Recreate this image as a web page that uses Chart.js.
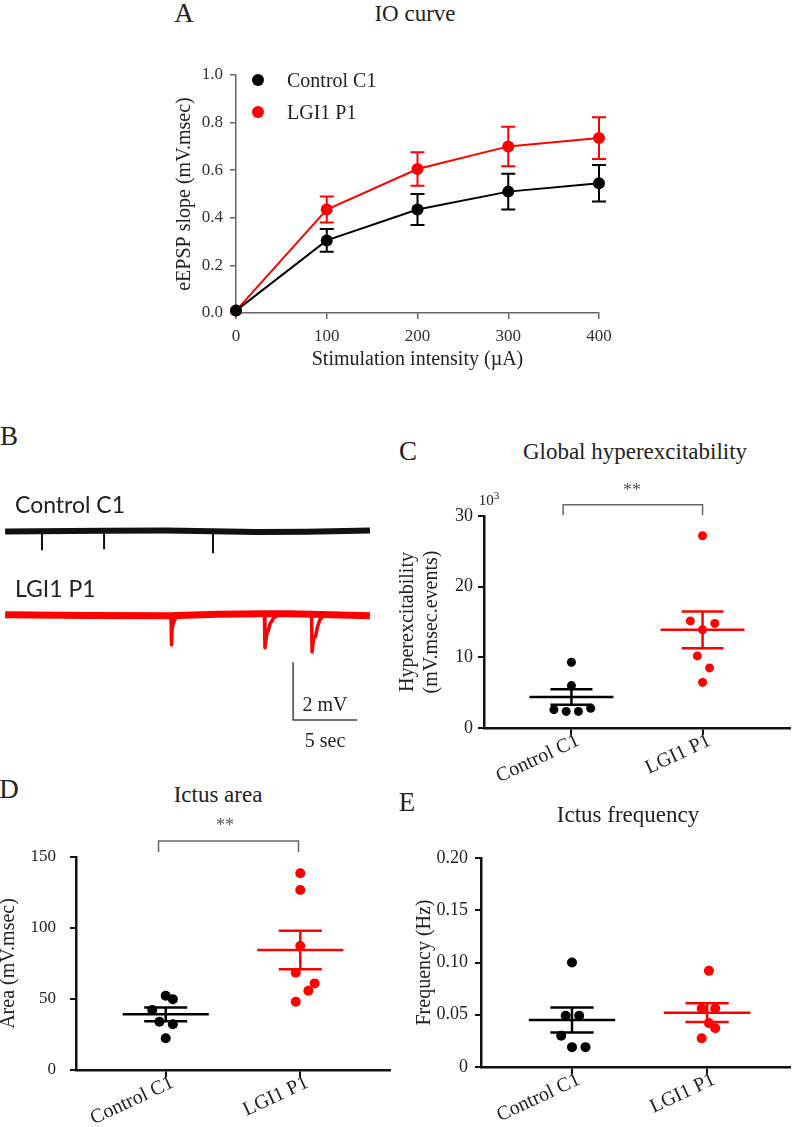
<!DOCTYPE html>
<html>
<head>
<meta charset="utf-8">
<script src="https://cdn.jsdelivr.net/npm/chart.js@4.4.0/dist/chart.umd.min.js"></script>
<style>
body { margin:0; width:800px; height:1127px; position:relative; background:#fff; overflow:hidden;
       font-family:"Liberation Serif","Times New Roman",serif; color:#222; }
canvas { position:absolute; }
.t { position:absolute; white-space:nowrap; line-height:1; transform:translate(-50%,-50%); }
.l { transform:translate(0,-50%); }
.sans { font-family:Lato,"Liberation Sans",sans-serif; }
.dot { position:absolute; width:12px; height:12px; border-radius:50%; transform:translate(-50%,-50%); }
</style>
</head>
<body>
<canvas id="io"></canvas>
<canvas id="traces"></canvas>
<canvas id="hyper"></canvas>
<canvas id="area"></canvas>
<canvas id="freq"></canvas>

<!-- panel letters and titles -->
<div class="t" style="left:184px;top:13px;font-size:27px">A</div>
<div class="t" style="left:415px;top:13px;font-size:23px">IO curve</div>
<div class="t" style="left:9px;top:436px;font-size:27px">B</div>
<div class="t" style="left:408px;top:451px;font-size:27px">C</div>
<div class="t" style="left:635px;top:451px;font-size:23px">Global hyperexcitability</div>
<div class="t" style="left:9px;top:789px;font-size:27px">D</div>
<div class="t" style="left:218px;top:794px;font-size:23px">Ictus area</div>
<div class="t" style="left:407px;top:802px;font-size:27px">E</div>
<div class="t" style="left:628px;top:814px;font-size:23px">Ictus frequency</div>

<!-- panel A legend -->
<div class="dot" style="left:258px;top:80px;background:#000"></div>
<div class="t l" style="left:287px;top:80px;font-size:20px">Control C1</div>
<div class="dot" style="left:258px;top:112px;background:#ff0000"></div>
<div class="t l" style="left:287px;top:112px;font-size:20px">LGI1 P1</div>

<!-- panel B labels -->
<div class="t l sans" style="left:15px;top:504px;font-size:23px">Control C1</div>
<div class="t l sans" style="left:15px;top:588px;font-size:23px">LGI1 P1</div>
<div class="t" style="left:325px;top:704px;font-size:20px">2 mV</div>
<div class="t" style="left:325px;top:740px;font-size:20px">5 sec</div>

<!-- significance marks -->
<div class="t" style="left:489px;top:499px;font-size:15px">10<sup style="font-size:11px">3</sup></div>
<div class="t" style="left:632px;top:490px;font-size:18px;color:#555">**</div>
<div class="t" style="left:225px;top:825px;font-size:18px;color:#555">**</div>

<script>
// ---------------- data ----------------
// A: input/output curve
const stimCurrents = [0, 100, 200, 300, 400];
const ioControl = [0.01, 0.305, 0.435, 0.51, 0.545];
const ioControlSem = [0, 0.048, 0.065, 0.075, 0.077];
const ioLgi1 = [0.01, 0.435, 0.605, 0.70, 0.735];
const ioLgi1Sem = [0, 0.055, 0.07, 0.083, 0.088];
const ioTicksY = [0, 0.2, 0.4, 0.6, 0.8, 1.0];
const ioTicksX = [0, 100, 200, 300, 400];

// B: example recordings, [sec, mV]
const controlBaseline = [[0.4, 0], [8.1, 0.02], [13, 0.03], [16.6, 0.01], [20, -0.02], [24, -0.01], [28.9, 0.03]];
const controlSpikes = [[3.28, -0.63], [8.13, -0.6], [16.64, -0.74]];
const lgi1Baseline = [[0.4, 0], [7, -0.02], [13.3, -0.03], [17, 0.02], [20.6, 0.04], [22.5, 0.04], [24.3, 0.02], [28.9, -0.03]];
const lgi1Events = [
  [[13.36, -0.03], [13.40, -1.05], [13.45, -0.45], [13.6, -0.22], [13.8, -0.08], [14.1, 0]],
  [[20.66, 0.04], [20.70, -1.15], [20.82, -0.72], [20.94, -0.58], [21.09, -0.32], [21.4, -0.1], [21.88, 0.04]],
  [[24.34, 0.02], [24.38, -1.3], [24.49, -0.85], [24.65, -0.75], [24.8, -0.42], [25.0, -0.16], [25.39, 0.01]]
];
const lgi1Offset = -2.92;
const scaleBarSec = 5;
const scaleBarMv = 2;

// C, D, E: dot plots
const groups = ['Control C1', 'LGI1 P1'];
const groupPos = [1, 2.5];

const hyperControl = [9.3, 6.0, 2.6, 2.35, 2.35, 2.8];
const hyperControlX = [0, 0, -0.2, -0.06, 0.08, 0.22];
const hyperLgi1 = [27.2, 15.15, 14.8, 13.9, 10.2, 8.5, 6.45];
const hyperLgi1X = [0, -0.14, 0.14, 0, -0.06, 0.08, 0];
const hyperMean = [4.4, 13.9];
const hyperSem = [1.1, 2.6];
const hyperTicks = [0, 10, 20, 30];

const areaControl = [52.3, 49.8, 42.2, 34.0, 32.2, 22.3];
const areaControlX = [0, 0.08, -0.15, -0.07, 0.08, 0];
const areaLgi1 = [138.5, 126.8, 87.3, 68.5, 61.0, 55.8, 48.1];
const areaLgi1X = [0, 0, 0, -0.05, 0.16, 0.09, -0.05];
const areaMean = [39.2, 84.5];
const areaSem = [4.8, 13.5];
const areaTicks = [0, 50, 100, 150];

const freqControl = [0.10, 0.049, 0.049, 0.03, 0.019, 0.019];
const freqControlX = [0, -0.07, 0.08, -0.12, 0, 0.15];
const freqLgi1 = [0.092, 0.056, 0.056, 0.042, 0.037, 0.0275];
const freqLgi1X = [0.02, -0.06, 0.09, 0.02, 0.09, -0.06];
const freqMean = [0.045, 0.052];
const freqSem = [0.012, 0.009];
const freqTicks = [0, 0.05, 0.10, 0.15, 0.20];

// ---------------- helpers ----------------
const SERIF = '"Liberation Serif", "Times New Roman", serif';
const RED = '#ff0000';
const groupColors = ['#000', RED];
Chart.defaults.font.family = SERIF;
Chart.defaults.color = '#222';

const font = (size, extra) => Object.assign({ family: SERIF, size }, extra);

function place(id, box) {
  const c = document.getElementById(id);
  c.width = box.w; c.height = box.h;
  c.style.left = box.x + 'px'; c.style.top = box.y + 'px';
  return c;
}

// fix the axis box size so the plot area lands where we want it
function fixBox(size) {
  return s => {
    if (s.isHorizontal()) s.height = size; else s.width = size;
    s.paddingLeft = s.paddingRight = s.paddingTop = s.paddingBottom = 0;
  };
}

function setTicks(values) {
  return s => { s.ticks = values.map(v => ({ value: v })); };
}

function padFor(box, area) {
  return { left: 0, top: area.top - box.y, right: box.x + box.w - area.right, bottom: 0 };
}

const baseOpts = {
  responsive: false,
  animation: false,
  events: [],
  plugins: { legend: { display: false }, tooltip: { enabled: false } }
};

// error bars for panel A
const errorBars = {
  id: 'errorBars',
  afterDatasetsDraw(chart) {
    const { ctx, scales: { y } } = chart;
    chart.data.datasets.forEach((ds, i) => {
      if (!ds.sem) return;
      const meta = chart.getDatasetMeta(i);
      ctx.save();
      ctx.strokeStyle = ds.borderColor;
      ctx.lineWidth = 2;
      meta.data.forEach((pt, j) => {
        const s = ds.sem[j];
        if (!s) return;
        const hi = y.getPixelForValue(ds.data[j].y + s);
        const lo = y.getPixelForValue(ds.data[j].y - s);
        ctx.beginPath();
        ctx.moveTo(pt.x, hi); ctx.lineTo(pt.x, lo);
        ctx.moveTo(pt.x - 7, hi); ctx.lineTo(pt.x + 7, hi);
        ctx.moveTo(pt.x - 7, lo); ctx.lineTo(pt.x + 7, lo);
        ctx.stroke();
      });
      ctx.restore();
    });
  }
};

// ---------------- A: IO curve ----------------
(function () {
  const box = { x: 150, y: 40, w: 470, h: 340 };
  const area = { left: 236, top: 75, right: 599, bottom: 313 };
  const axisGrey = '#666';
  const series = (vals, sem, color) => ({
    data: stimCurrents.map((x, i) => ({ x, y: vals[i] })),
    sem,
    showLine: true,
    borderColor: color,
    backgroundColor: color,
    borderWidth: 2,
    pointRadius: 6,
    pointBorderWidth: 0,
    clip: false
  });
  new Chart(place('io', box), {
    type: 'scatter',
    data: { datasets: [series(ioControl, ioControlSem, '#000'), series(ioLgi1, ioLgi1Sem, RED)] },
    plugins: [errorBars],
    options: {
      ...baseOpts,
      layout: { padding: padFor(box, area) },
      scales: {
        x: {
          type: 'linear', min: 0, max: 400,
          afterBuildTicks: setTicks(ioTicksX),
          afterFit: fixBox(box.y + box.h - area.bottom),
          ticks: { font: font(17), color: '#333', padding: 7 },
          grid: { drawOnChartArea: false, tickLength: 6, color: axisGrey, lineWidth: 1.5 },
          border: { color: axisGrey, width: 1.5 },
          title: { display: true, text: 'Stimulation intensity (\u00b5A)', font: font(20), color: '#222', padding: { top: 0, bottom: 8 } }
        },
        y: {
          min: 0, max: 1,
          afterBuildTicks: setTicks(ioTicksY),
          afterFit: fixBox(area.left - box.x),
          ticks: { font: font(17), color: '#333', padding: 7, callback: v => v.toFixed(1) },
          grid: { drawOnChartArea: false, tickLength: 6, color: axisGrey, lineWidth: 1.5 },
          border: { color: axisGrey, width: 1.5 },
          title: { display: true, text: 'eEPSP slope (mV.msec)', font: font(20), color: '#222', padding: { top: 23, bottom: 0 } }
        }
      }
    }
  });
})();

// ---------------- B: traces ----------------
(function () {
  const box = { x: 0, y: 500, w: 400, h: 260 };
  const xy = (pts, dy = 0) => pts.map(([x, y]) => ({ x, y: y + dy }));
  const line = (data, color, width) => ({
    data, showLine: true, borderColor: color, borderWidth: width,
    pointRadius: 0, borderJoinStyle: 'round', clip: false
  });
  const barX = 22.9, barY = -6.6;
  const datasets = [
    line(xy(controlBaseline), '#111', 6),
    ...controlSpikes.map(([t, d]) => line([{ x: t, y: 0 }, { x: t, y: d }], '#111', 2)),
    line(xy(lgi1Baseline, lgi1Offset), RED, 7),
    ...lgi1Events.map(ev => line(xy(ev, lgi1Offset), RED, 3.5)),
    line([{ x: barX, y: barY + scaleBarMv }, { x: barX, y: barY }, { x: barX + scaleBarSec, y: barY }], '#444', 1.5)
  ];
  new Chart(place('traces', box), {
    type: 'scatter',
    data: { datasets },
    options: {
      ...baseOpts,
      layout: { padding: 0 },
      scales: {
        x: { type: 'linear', display: false, min: 0, max: 31.25 },
        y: { display: false, min: -8, max: 1.1 }
      }
    }
  });
})();

// ---------------- C, D, E: dot plots ----------------
function dotPanel(id, box, area, p) {
  const datasets = [];
  p.values.forEach((vals, g) => {
    datasets.push({
      data: vals.map((v, k) => ({ x: groupPos[g] + p.spread[g][k], y: v })),
      backgroundColor: groupColors[g], borderWidth: 0, pointRadius: p.radius, clip: false
    });
  });
  const seg = (pts, color, width) => ({
    data: pts.map(([x, y]) => ({ x, y })), showLine: true, borderColor: color,
    borderWidth: width, pointRadius: 0, clip: false
  });
  p.mean.forEach((m, g) => {
    const c = groupPos[g], s = p.sem[g], col = groupColors[g];
    datasets.push(seg([[c - 0.48, m], [c + 0.48, m]], col, 2.5));
    datasets.push(seg([[c - 0.24, m + s], [c + 0.24, m + s]], col, 2.5));
    datasets.push(seg([[c - 0.24, m - s], [c + 0.24, m - s]], col, 2.5));
    datasets.push(seg([[c, m - s], [c, m + s]], col, 2.5));
  });
  if (p.bracket) {
    const [x0, x1, yLow, yTop] = p.bracket;
    datasets.push(seg([[x0, yLow], [x0, yTop], [x1, yTop], [x1, yLow]], '#666', 1.5));
  }
  const ticks = p.ticks;
  new Chart(place(id, box), {
    type: 'scatter',
    data: { datasets },
    options: {
      ...baseOpts,
      layout: { padding: padFor(box, area) },
      scales: {
        x: {
          type: 'linear', min: p.xRange[0], max: p.xRange[1],
          afterBuildTicks: setTicks(groupPos),
          afterFit: fixBox(box.y + box.h - area.bottom),
          ticks: { callback: (v, i) => groups[i], minRotation: 25, maxRotation: 25, font: font(20), color: '#222', padding: -6, labelOffset: 7 },
          grid: { drawOnChartArea: false, tickLength: 7, color: '#111', lineWidth: 2 },
          border: { color: '#111', width: 2.5 }
        },
        y: {
          min: ticks[0], max: ticks[ticks.length - 1],
          afterBuildTicks: setTicks(ticks),
          afterFit: fixBox(area.left - box.x),
          ticks: { callback: p.fmt, font: font(p.tickSize), color: '#222', padding: p.tickPad },
          grid: { drawOnChartArea: false, tickLength: 6, color: '#111', lineWidth: 2 },
          border: { color: '#111', width: 2.5 },
          title: { display: true, text: p.yTitle, font: font(20, { lineHeight: 1.2 }), color: '#222', padding: { top: p.titlePad, bottom: 0 } }
        }
      }
    }
  });
}

dotPanel('hyper', { x: 395, y: 480, w: 405, h: 320 }, { left: 484, top: 516, right: 790, bottom: 728 }, {
  values: [hyperControl, hyperLgi1], spread: [hyperControlX, hyperLgi1X],
  mean: hyperMean, sem: hyperSem, ticks: hyperTicks, xRange: [0, 3.5],
  bracket: [0.905, 2.5, 30.1, 31.6], radius: 4.5,
  fmt: v => String(v), tickSize: 18, tickPad: 5,
  yTitle: ['Hyperexcitability', '(mV.msec.events)'], titlePad: 1
});

dotPanel('area', { x: 0, y: 815, w: 400, h: 312 }, { left: 76, top: 857, right: 390, bottom: 1070 }, {
  values: [areaControl, areaLgi1], spread: [areaControlX, areaLgi1X],
  mean: areaMean, sem: areaSem, ticks: areaTicks, xRange: [0, 3.5],
  bracket: [0.92, 2.48, 153.5, 161.3], radius: 5,
  fmt: v => String(v), tickSize: 17, tickPad: 14,
  yTitle: 'Area (mV.msec)', titlePad: -3
});

dotPanel('freq', { x: 400, y: 830, w: 400, h: 297 }, { left: 481, top: 858, right: 790, bottom: 1067 }, {
  values: [freqControl, freqLgi1], spread: [freqControlX, freqLgi1X],
  mean: freqMean, sem: freqSem, ticks: freqTicks, xRange: [-0.01, 3.42],
  bracket: null, radius: 5,
  fmt: v => (v === 0 ? '0' : v.toFixed(2)), tickSize: 18, tickPad: 7,
  yTitle: 'Frequency (Hz)', titlePad: 13
});
</script>
</body>
</html>
